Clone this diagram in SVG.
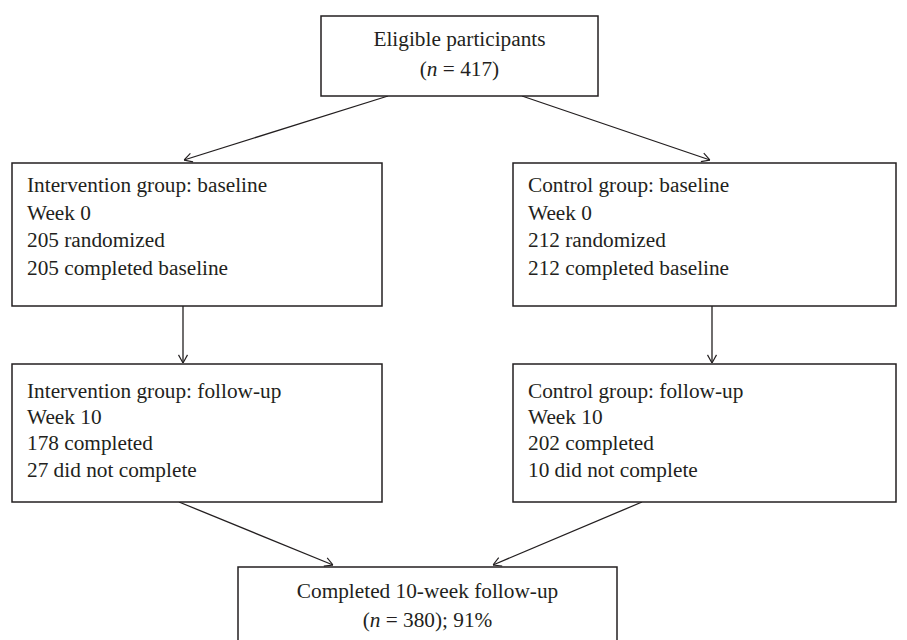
<svg xmlns="http://www.w3.org/2000/svg" width="907" height="640" viewBox="0 0 907 640">
<defs>
<style>
.box{fill:#fff;stroke:#231f20;stroke-width:1.5}
.t{font-family:"Liberation Serif","Times New Roman",serif;font-size:21.3px;fill:#231f20}
.c{text-anchor:middle}
.edge{stroke:#231f20;stroke-width:1.3;fill:none;marker-end:url(#arr)}
</style>
<marker id="arr" viewBox="0 0 10 12" refX="10" refY="6" markerWidth="9" markerHeight="11" markerUnits="userSpaceOnUse" orient="auto">
<path d="M1,1 L10,6 L1,11" fill="none" stroke="#231f20" stroke-width="1.3"/>
</marker>
</defs>
<rect width="907" height="640" fill="#fff"/>
<g id="connectors">
<line class="edge" x1="388" y1="96" x2="184" y2="160"/>
<line class="edge" x1="522" y1="96" x2="710" y2="160"/>
<line class="edge" x1="183" y1="306" x2="183" y2="363"/>
<line class="edge" x1="712" y1="306" x2="712" y2="363"/>
<line class="edge" x1="179" y1="502" x2="333" y2="565"/>
<line class="edge" x1="642" y1="502" x2="493" y2="565"/>
</g>
<g id="eligible">
<rect class="box" x="321" y="16" width="277" height="80"/>
<text class="t c" x="459.5" y="46">Eligible participants</text>
<text class="t c" x="459.5" y="76">(<tspan font-style="italic">n</tspan> = 417)</text>
</g>
<g id="intervention-baseline">
<rect class="box" x="12" y="163" width="370" height="143"/>
<text class="t" x="27" y="192">Intervention group: baseline</text>
<text class="t" x="27" y="220">Week 0</text>
<text class="t" x="27" y="247">205 randomized</text>
<text class="t" x="27" y="275">205 completed baseline</text>
</g>
<g id="control-baseline">
<rect class="box" x="513" y="163" width="383" height="143"/>
<text class="t" x="528" y="192">Control group: baseline</text>
<text class="t" x="528" y="220">Week 0</text>
<text class="t" x="528" y="247">212 randomized</text>
<text class="t" x="528" y="275">212 completed baseline</text>
</g>
<g id="intervention-followup">
<rect class="box" x="12" y="364" width="370" height="138"/>
<text class="t" x="27" y="398">Intervention group: follow-up</text>
<text class="t" x="27" y="424">Week 10</text>
<text class="t" x="27" y="450">178 completed</text>
<text class="t" x="27" y="477">27 did not complete</text>
</g>
<g id="control-followup">
<rect class="box" x="513" y="364" width="383" height="138"/>
<text class="t" x="528" y="398">Control group: follow-up</text>
<text class="t" x="528" y="424">Week 10</text>
<text class="t" x="528" y="450">202 completed</text>
<text class="t" x="528" y="477">10 did not complete</text>
</g>
<g id="completed">
<rect class="box" x="238" y="567" width="379" height="90"/>
<text class="t c" x="427.5" y="598">Completed 10-week follow-up</text>
<text class="t c" x="427.5" y="627">(<tspan font-style="italic">n</tspan> = 380); 91%</text>
</g>
</svg>
